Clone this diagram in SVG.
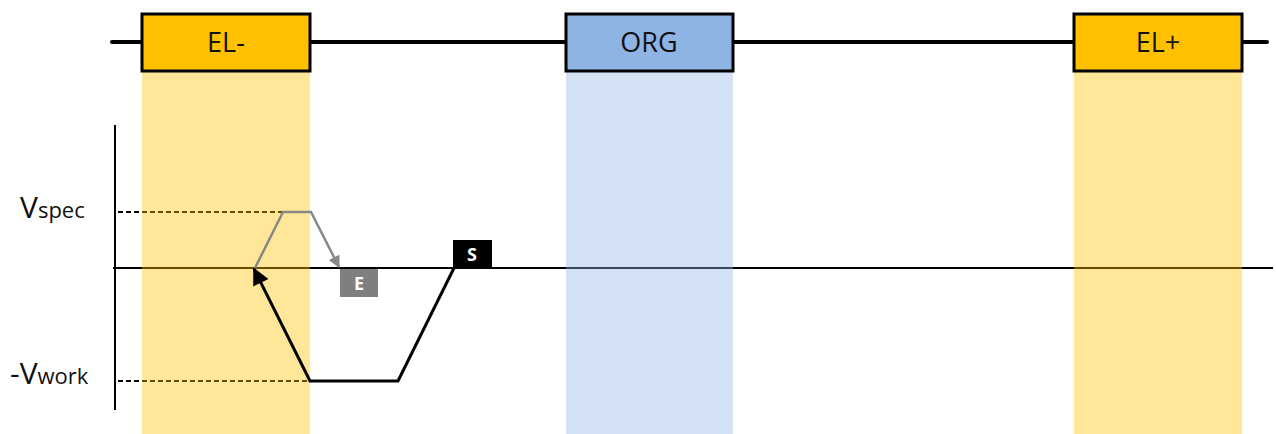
<svg xmlns="http://www.w3.org/2000/svg" width="1276" height="434" viewBox="0 0 1276 434">
<defs>
<style>
.box{stroke:#000;stroke-width:3}
.lbl{font-family:"Open Sans","Noto Sans",sans-serif;font-size:27px;fill:#111;text-anchor:middle}
.ax{font-family:"Open Sans","Noto Sans",sans-serif;fill:#111}
.dash{stroke:#000;stroke-width:2;stroke-dasharray:5,3;fill:none}
.band{opacity:0.4}
</style>
<marker id="ag" viewBox="0 0 10 10" refX="9" refY="5" markerWidth="13" markerHeight="12" orient="auto" markerUnits="userSpaceOnUse"><path d="M0,0 L10,5 L0,10 z" fill="#888"/></marker>
<marker id="ab" viewBox="0 0 10 10" refX="9" refY="5" markerWidth="20" markerHeight="17" orient="auto" markerUnits="userSpaceOnUse"><path d="M0,0 L10,5 L0,10 z" fill="#000"/></marker>
</defs>
<rect x="0" y="0" width="1276" height="434" fill="#fff"/>
<g id="connectors">
<line x1="112" y1="42" x2="1267" y2="42" stroke="#000" stroke-width="4" stroke-linecap="round"/>
<line x1="115" y1="125" x2="115" y2="410" stroke="#000" stroke-width="2"/>
<line x1="113" y1="268" x2="1273" y2="268" stroke="#000" stroke-width="2"/>
<line x1="118" y1="212" x2="283" y2="212" class="dash"/>
<line x1="118" y1="381" x2="310" y2="381" class="dash"/>
</g>
<g id="bands">
<rect class="band" x="142" y="71" width="168" height="363" fill="#FFC000"/>
<rect class="band" x="566" y="71" width="167" height="363" fill="#8EB4E3"/>
<rect class="band" x="1074" y="71" width="168" height="363" fill="#FFC000"/>
</g>
<g id="paths">
<polyline points="255,268 283,212 311,212 339,267" fill="none" stroke="#888" stroke-width="2.5" marker-end="url(#ag)"/>
<polyline points="454,268 398,381 310,381 254,269" fill="none" stroke="#000" stroke-width="3" marker-end="url(#ab)"/>
</g>
<g id="el-minus">
<rect class="box" x="142" y="14" width="168" height="57" fill="#FFC000"/>
<text class="lbl" x="226" y="52">EL-</text>
</g>
<g id="org">
<rect class="box" x="566" y="14" width="167" height="57" fill="#8EB4E3"/>
<text class="lbl" x="649" y="52">ORG</text>
</g>
<g id="el-plus">
<rect class="box" x="1074" y="14" width="168" height="57" fill="#FFC000"/>
<text class="lbl" x="1158" y="52">EL+</text>
</g>
<g id="e-marker">
<rect x="340" y="269" width="38" height="28" fill="#7F7F7F"/>
<text x="359" y="290" font-family="Open Sans, Noto Sans, sans-serif" font-weight="bold" font-size="18" fill="#fff" text-anchor="middle">E</text>
</g>
<g id="s-marker">
<rect x="453" y="240" width="39" height="27" fill="#000"/>
<text x="472" y="261" font-family="Open Sans, Noto Sans, sans-serif" font-weight="bold" font-size="18" fill="#fff" text-anchor="middle">S</text>
</g>
<g id="labels">
<text class="ax" x="20" y="218" font-size="30">V<tspan font-size="22">spec</tspan></text>
<text class="ax" x="10" y="384" font-size="30">-V<tspan font-size="22">work</tspan></text>
</g>
</svg>
